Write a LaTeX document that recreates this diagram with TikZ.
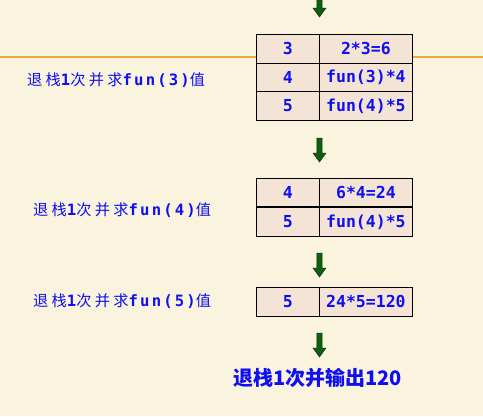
\documentclass[tikz,border=0pt]{standalone}
\usepackage{fontspec}
\newfontfamily\cjklab[LetterSpace=22]{Noto Sans CJK SC}
\newfontfamily\monolab[LetterSpace=14]{DejaVu Sans Mono}
\newfontfamily\cjkbig{Noto Sans CJK SC}
\newfontfamily\monocell{DejaVu Sans Mono}
\definecolor{bg}{RGB}{250,243,222}
\definecolor{cellbg}{RGB}{243,228,214}
\definecolor{txtblue}{RGB}{15,15,240}
\definecolor{arrgreen}{RGB}{16,92,16}
\definecolor{orangeline}{RGB}{240,168,60}
\tikzset{
  cell/.style={draw=black, line width=0.8pt, fill=cellbg, text=txtblue,
    minimum height=29pt, inner sep=0pt, anchor=north west,
    font=\monocell\bfseries\fontsize{16.5}{17}\selectfont},
  numcell/.style={cell, minimum width=63pt},
  valcell/.style={cell, minimum width=93pt},
  sidelabel/.style={anchor=west, text=txtblue, inner sep=0pt},
  garrow/.pic={\filldraw[fill=arrgreen, draw=arrgreen!60!black, line width=0.5pt]
     (-2.6,0) -- (-2.6,15) -- (-6.5,15) -- (0,24) -- (6.5,15) -- (2.6,15) -- (2.6,0) -- cycle;}
}
\newcommand{\lab}[1]{{\cjklab\fontsize{15.2}{16}\selectfont #1}}
\newcommand{\labm}[1]{{\monolab\bfseries\fontsize{15.6}{16}\selectfont #1}}
\begin{document}
\begin{tikzpicture}[x=1pt,y=-1pt]
\fill[bg] (0,0) rectangle (483,416);
\useasboundingbox (0,0) rectangle (483,416);
\draw[orangeline, line width=1.2pt] (0,57) -- (483,57);

% arrow 1
\pic at (319.5,-7) {garrow};

% table 1
\node[numcell] (a1) at (256,34) {3};
\node[valcell] (b1) at (319,34) {2*3=6};
\node[numcell] (a2) at (256,62.5) {4};
\node[valcell] (b2) at (319,62.5) {fun(3)*4};
\node[numcell] (a3) at (256,91) {5};
\node[valcell] (b3) at (319,91) {fun(4)*5};

\node[sidelabel] (l1) at (27,80) {\lab{退栈}\labm{1}\lab{次并求}\labm{fun(3)}\lab{值}};

% arrow 2
\pic at (319.5,138) {garrow};

% table 2
\node[numcell] (c1) at (256,178) {4};
\node[valcell] (d1) at (319,178) {6*4=24};
\node[numcell] (c2) at (256,207) {5};
\node[valcell] (d2) at (319,207) {fun(4)*5};
\draw[line width=1.6pt] (c2.north west) -- (d2.north east);

\node[sidelabel] (l2) at (33,210) {\lab{退栈}\labm{1}\lab{次并求}\labm{fun(4)}\lab{值}};

% arrow 3
\pic at (319.5,253) {garrow};

% table 3
\node[numcell] (e1) at (256,287) {5};
\node[valcell] (f1) at (319,287) {24*5=120};

\node[sidelabel] (l3) at (33,301) {\lab{退栈}\labm{1}\lab{次并求}\labm{fun(5)}\lab{值}};

% arrow 4
\pic at (319.5,333) {garrow};

\node[text=txtblue, font=\cjkbig\bfseries\fontsize{20}{21}\selectfont, inner sep=0pt] (fin) at (317.5,378) {退栈1次并输出120};
\end{tikzpicture}
\end{document}
